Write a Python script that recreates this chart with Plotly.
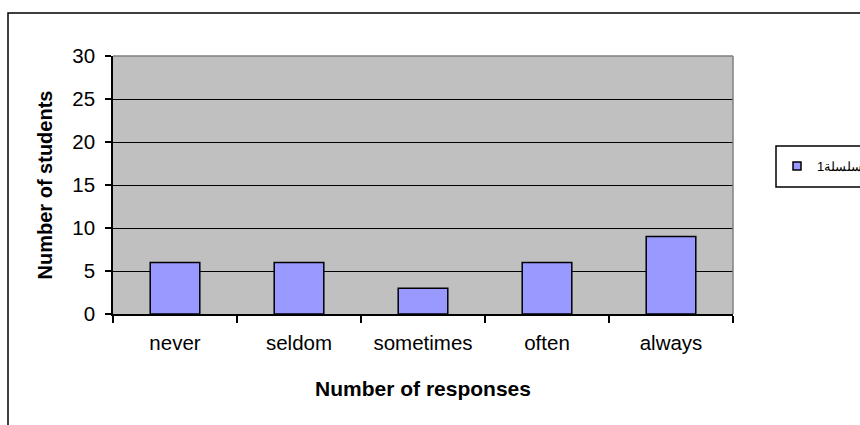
import plotly.graph_objects as go

# Survey responses
categories = ["never", "seldom", "sometimes", "often", "always"]
students = [6, 6, 3, 6, 9]
series_name = "سلسلة1"
y_ticks = [0, 5, 10, 15, 20, 25, 30]

W, H = 860, 425
L, R, T, B = 113, 733, 56, 314  # plot area in pixels


def px_x(px):
    return (px - L) / (R - L)


def px_y(py):
    return (B - py) / (B - T)


fig = go.Figure()
fig.add_trace(go.Bar(
    x=categories, y=students, name=series_name, showlegend=False,
    marker=dict(color="#9999FF", line=dict(color="black", width=1.5)),
))
# legend entry with a small square key
fig.add_trace(go.Scatter(
    x=[None], y=[None], mode="markers", name=series_name,
    marker=dict(symbol="square", size=8, color="#9999FF",
                line=dict(color="black", width=1.5)),
))

font = "Liberation Sans, Arial, sans-serif"

fig.update_layout(
    width=W, height=H,
    margin=dict(l=L, r=W - R, t=T, b=H - B, autoexpand=False),
    paper_bgcolor="white", plot_bgcolor="#C0C0C0",
    font=dict(family=font, color="black", size=20.5),
    bargap=0.6,
    showlegend=True,
    legend=dict(x=px_x(777), y=px_y(166), xanchor="left", yanchor="middle",
                bgcolor="rgba(0,0,0,0)", borderwidth=0,
                font=dict(size=13, family=font)),
    xaxis=dict(
        showline=True, linecolor="black", linewidth=1.5,
        ticks="outside", ticklen=7, tickcolor="black", tickwidth=1.5,
        tickson="boundaries", showgrid=False, ticklabelstandoff=10,
        title=dict(text="<b>Number of responses</b>", standoff=28,
                   font=dict(size=21)),
    ),
    yaxis=dict(
        range=[0, 30], tickvals=y_ticks, showline=True, linecolor="black",
        linewidth=1.5, ticks="outside", ticklen=6, tickcolor="black",
        tickwidth=1.5, showgrid=True, gridcolor="black", gridwidth=1,
        zeroline=False, ticklabelstandoff=6,
        title=dict(text="<b>Number of students</b>", standoff=14,
                   font=dict(size=20)),
    ),
    shapes=[
        # outer chart frame
        dict(type="rect", xref="paper", yref="paper",
             x0=px_x(8), x1=px_x(880), y0=px_y(440), y1=px_y(13),
             line=dict(color="black", width=1.5), layer="below"),
        # plot area top and right edges
        dict(type="line", xref="paper", yref="paper", x0=0, x1=1, y0=1, y1=1,
             line=dict(color="#808080", width=1.5)),
        dict(type="line", xref="paper", yref="paper", x0=1, x1=1, y0=0, y1=1,
             line=dict(color="#808080", width=1.5)),
        # legend frame
        dict(type="rect", xref="paper", yref="paper",
             x0=px_x(776), x1=px_x(900), y0=px_y(187), y1=px_y(146),
             line=dict(color="black", width=1.5)),
    ],
)

fig.write_html("out.html")
